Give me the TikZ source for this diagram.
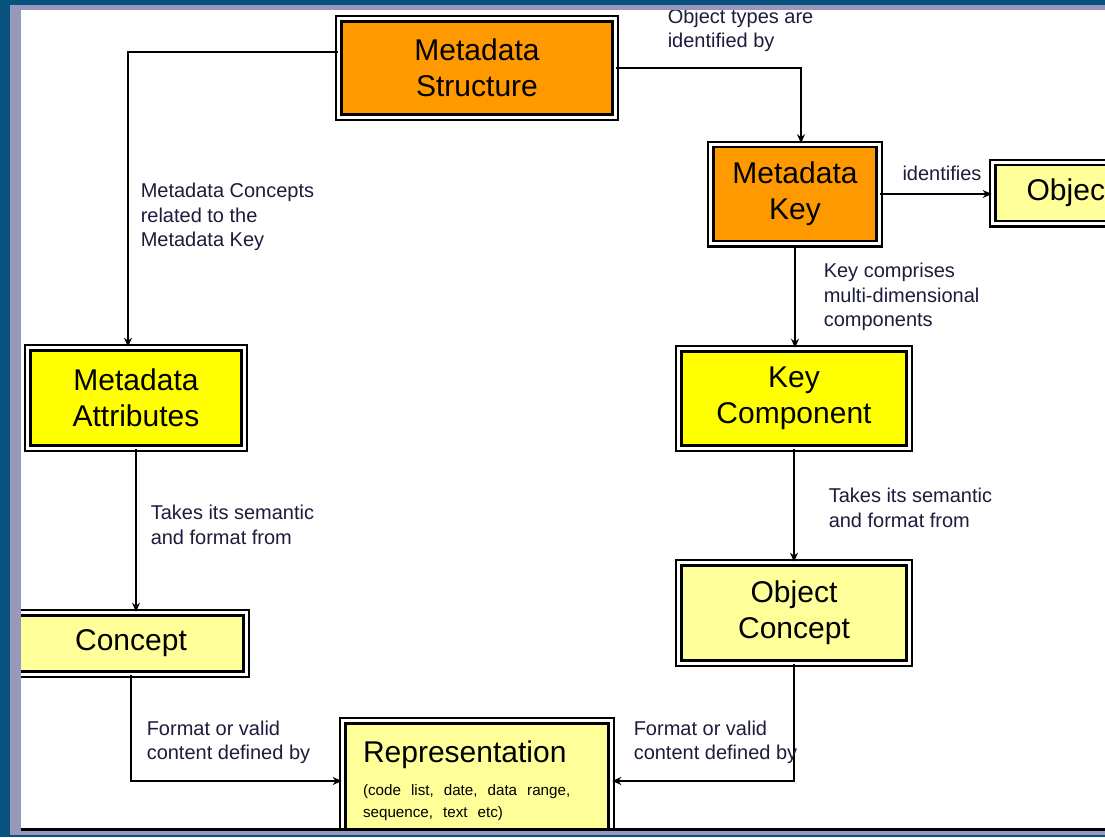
\documentclass[tikz,border=0pt]{standalone}
\usepackage{fontspec}
\setmainfont{Liberation Sans}
\usetikzlibrary{arrows.meta,positioning}
\definecolor{slideblue}{RGB}{8,82,128}
\definecolor{slideframe}{RGB}{152,152,188}
\definecolor{keyorange}{RGB}{255,153,0}
\definecolor{attryellow}{RGB}{255,255,0}
\definecolor{paleyellow}{RGB}{255,255,153}
\definecolor{noteink}{RGB}{28,28,60}

\begin{document}
\begin{tikzpicture}[x=0.5pt, y=-0.5pt, >={Stealth[length=4.5pt,width=4pt]}, line width=0.75pt,
    entity/.style={rectangle, draw, double=white, double distance=1.6pt, line width=1.1pt,
                   align=center, inner sep=0pt, font=\fontsize{15}{18}\selectfont},
    note/.style={anchor=west, align=left, inner sep=0pt, text=noteink,
                 font=\fontsize{10}{12.25}\selectfont}]
  \useasboundingbox (0,0) rectangle (1105,837);
  % slide frame
  \fill[slideblue] (0,0) rectangle (1105,837);
  \fill[slideframe] (10,5) rectangle (1105,835);
  \fill[white] (21,10) rectangle (1105,828);

  \begin{scope}
    \clip (21,10) rectangle (1105,828);
    \node[entity, fill=keyorange, minimum width=138.2pt, minimum height=49.2pt] (ms) at (477,68) {Metadata\\Structure};
    \node[entity, fill=keyorange, minimum width=84.2pt, minimum height=49.7pt] (mk) at (795,194) {Metadata\\Key};
    \node[entity, fill=paleyellow, minimum width=77.2pt, minimum height=30.7pt] (obj) at (1070,193) {Object};
    \node[entity, fill=attryellow, minimum width=108.2pt, minimum height=50.2pt] (ma) at (136,398) {Metadata\\Attributes};
    \node[entity, fill=attryellow, minimum width=115.2pt, minimum height=49.7pt] (kc) at (794,398.5) {Key\\Component};
    \node[entity, fill=paleyellow, minimum width=115.2pt, minimum height=50.2pt] (oc) at (794,613) {Object\\Concept};
    \node[entity, fill=paleyellow, minimum width=115.2pt, minimum height=30.7pt] (co) at (131,643.5) {Concept};
    \node[entity, fill=paleyellow, minimum width=134.2pt, minimum height=60.2pt,
          text width=114pt, inner xsep=10.1pt, align=left] (rep) at (477,781)
      {\raggedright{\fontsize{15}{18}\selectfont Representation\par}\vspace{5.5pt}%
       {\fontsize{7.6}{11}\selectfont (code list, date, data range,\par sequence, text etc)\par}};

    % relations
    \draw[->] ([yshift=8pt]ms.west) -| ([xshift=-4pt]ma.north);
    \draw[->] (ms.east) -| ([xshift=3pt]mk.north);
    \draw[->] (mk.east) -- (mk.east -| obj.west);
    \draw[->] (mk.south) -- (mk.south |- kc.north);
    \draw[->] (kc.south) -- (oc.north);
    \draw[->] (ma.south) -- (ma.south |- co.north);
    \draw[->] (co.south) |- (rep.west);
    \draw[->] (oc.south) |- (rep.east);

    \node[note] (concepts) at (140,217) {Metadata Concepts\\related to the\\Metadata Key};
    \node[note] (types) at (667,30.5) {Object types are\\identified by};
    \node[note, anchor=center] (ident) at (942,173) {identifies};
    \node[note] (comprises) at (823,297) {Key comprises\\multi-dimensional\\components};
    \node[note] (semkey) at (828,508) {Takes its semantic\\and format from};
    \node[note] (semattr) at (150,525) {Takes its semantic\\and format from};
    \node[note] (fmtleft) at (146,742.5) {Format or valid\\content defined by};
    \node[note] (fmtright) at (633,742.5) {Format or valid\\content defined by};
  \end{scope}
  \fill[black] (21,828) rectangle (1105,831);
\end{tikzpicture}
\end{document}
